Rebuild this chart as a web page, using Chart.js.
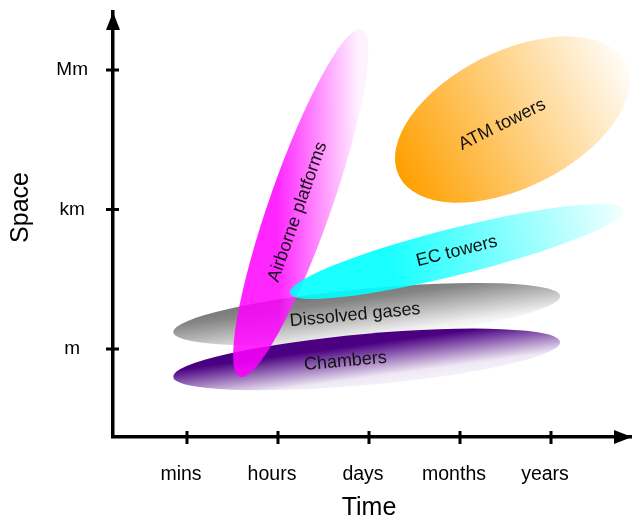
<!DOCTYPE html>
<html lang="en">
<head>
<meta charset="UTF-8">
<title>Space and time scales of measurement platforms</title>
<script src="https://cdn.jsdelivr.net/npm/chart.js"></script>
<style>
  html, body { margin: 0; padding: 0; background: #fff; }
  #wrap { width: 632px; height: 521px; }
</style>
</head>
<body>
<div id="wrap"><canvas id="scales"></canvas></div>
<script>
// tick labels, one per whole unit on each axis
const timeLabels = ['mins', 'hours', 'days', 'months', 'years'];
const spaceLabels = ['m', 'km', 'Mm'];

// each platform is an ellipse: the two ends of its long axis in (time, space)
// units, and its half thickness in space units
const platforms  = ['Dissolved gases', 'Chambers', 'Airborne platforms', 'EC towers', 'ATM towers'];
const timeStart  = [0.85, 0.85, 1.58, 2.13, 3.33];
const spaceStart = [1.12, 0.80, 0.80, 1.40, 2.24];
const timeEnd    = [5.10, 5.10, 2.92, 5.80, 5.82];
const spaceEnd   = [1.38, 1.05, 3.29, 2.00, 3.05];
const halfWidth  = [0.183, 0.183, 0.222, 0.168, 0.489];

const FONT = '"Liberation Sans", Arial, Helvetica, sans-serif';

// how each ellipse is painted; grad = [u0, v0, u1, v1] in units of a and b
const looks = [
  { grad: [-0.006, -1, 0.006, 1], stops: [[0, '#787878'], [0.2, '#858585'], [0.9, '#f0f0f0'], [1, '#f8f8f8']], alpha: 1, shift: -0.06 },
  { grad: [-0.006, -1, 0.006, 1], stops: [[0, '#4b0082'], [0.2, '#4b0082'], [0.85, '#eee8f4'], [1, '#f4f0f8']], alpha: 1, shift: -0.11 },
  { grad: [-0.11, -1.8, 0.11, 1.8], stops: [[0, '#ff00ff'], [0.3, '#ff00ff'], [1, '#fff0ff']], alpha: 0.85, shift: -0.05 },
  { grad: [-1, 0, 1, 0], stops: [[0, '#00ffff'], [0.3, '#00ffff'], [1, '#f2ffff']], alpha: 0.9, shift: 0 },
  { grad: [-1, 0, 1, 0], stops: [[0, '#ffa000'], [1, '#fffcf7']], alpha: 1, shift: -0.09 }
];

const ellipses = {
  id: 'ellipses',
  beforeDatasetsDraw(chart) {
    const { ctx, scales: { x, y } } = chart;
    const unitY = Math.abs(y.getPixelForValue(1) - y.getPixelForValue(0));
    platforms.forEach((name, i) => {
      const x0 = x.getPixelForValue(timeStart[i]), y0 = y.getPixelForValue(spaceStart[i]);
      const x1 = x.getPixelForValue(timeEnd[i]), y1 = y.getPixelForValue(spaceEnd[i]);
      const a = Math.hypot(x1 - x0, y1 - y0) / 2;
      const b = halfWidth[i] * unitY;
      const look = looks[i];
      ctx.save();
      ctx.translate((x0 + x1) / 2, (y0 + y1) / 2);
      ctx.rotate(Math.atan2(y1 - y0, x1 - x0));
      const g = look.grad;
      const grad = ctx.createLinearGradient(g[0] * a, g[1] * b, g[2] * a, g[3] * b);
      look.stops.forEach(s => grad.addColorStop(s[0], s[1]));
      ctx.globalAlpha = look.alpha;
      ctx.fillStyle = grad;
      ctx.beginPath();
      ctx.ellipse(0, 0, a, b, 0, 0, Math.PI * 2);
      ctx.fill();
      ctx.globalAlpha = 1;
      ctx.fillStyle = '#111';
      ctx.font = '18px ' + FONT;
      ctx.textAlign = 'center';
      ctx.textBaseline = 'middle';
      ctx.fillText(name, look.shift * a, 0);
      ctx.restore();
    });
  },
  afterDraw(chart) {
    // axis arrow heads, tick marks that cross the axis line, axis titles
    const { ctx, chartArea: area, scales: { x, y } } = chart;
    ctx.save();
    ctx.fillStyle = '#000';
    ctx.strokeStyle = '#000';
    ctx.lineWidth = 3;
    ctx.beginPath();
    ctx.moveTo(area.left, area.top);
    ctx.lineTo(area.left - 7, area.top + 18);
    ctx.lineTo(area.left + 7, area.top + 18);
    ctx.closePath();
    ctx.fill();
    ctx.beginPath();
    ctx.moveTo(area.right, area.bottom);
    ctx.lineTo(area.right - 18, area.bottom - 7);
    ctx.lineTo(area.right - 18, area.bottom + 7);
    ctx.closePath();
    ctx.fill();
    ctx.beginPath();
    x.ticks.forEach(t => {
      const px = x.getPixelForValue(t.value);
      ctx.moveTo(px, area.bottom - 6);
      ctx.lineTo(px, area.bottom + 7);
    });
    y.ticks.forEach(t => {
      const py = y.getPixelForValue(t.value);
      ctx.moveTo(area.left - 7, py);
      ctx.lineTo(area.left + 6, py);
    });
    ctx.stroke();

    // titles sit level with the middle tick of their axis
    ctx.font = '25px ' + FONT;
    ctx.textAlign = 'center';
    ctx.textBaseline = 'middle';
    ctx.fillText('Time', x.getPixelForValue(3), 508);
    ctx.translate(21, y.getPixelForValue(2) - 2);
    ctx.rotate(-Math.PI / 2);
    ctx.fillText('Space', 0, 0);
    ctx.restore();
  }
};

new Chart(document.getElementById('scales'), {
  type: 'scatter',
  data: { datasets: [] },
  options: {
    responsive: true,
    maintainAspectRatio: false,
    animation: false,
    layout: { padding: { top: 12, right: 0, bottom: 0, left: 0 } },
    plugins: { legend: { display: false }, tooltip: { enabled: false } },
    scales: {
      x: {
        type: 'linear',
        min: 0.187,
        max: 5.89,
        afterBuildTicks: s => { s.ticks = timeLabels.map((_, i) => ({ value: i + 1 })); },
        afterFit: s => { s.height = 84; },
        ticks: {
          callback: v => timeLabels[v - 1],
          color: '#000',
          font: { family: FONT, size: 19.5 },
          padding: 26,
          labelOffset: -6,
          maxRotation: 0,
          autoSkip: false
        },
        grid: { display: false, drawTicks: false },
        border: { display: true, color: '#000', width: 3.5 }
      },
      y: {
        type: 'linear',
        min: 0.369,
        max: 3.416,
        afterBuildTicks: s => { s.ticks = spaceLabels.map((_, i) => ({ value: i + 1 })); },
        afterFit: s => { s.width = 113; s.paddingTop = 0; s.paddingBottom = 0; },
        ticks: {
          callback: v => spaceLabels[v - 1],
          color: '#000',
          font: { family: FONT, size: 19 },
          padding: 25,
          crossAlign: 'center',
          autoSkip: false
        },
        grid: { display: false, drawTicks: false },
        border: { display: true, color: '#000', width: 3.5 }
      }
    }
  },
  plugins: [ellipses]
});
</script>
</body>
</html>
